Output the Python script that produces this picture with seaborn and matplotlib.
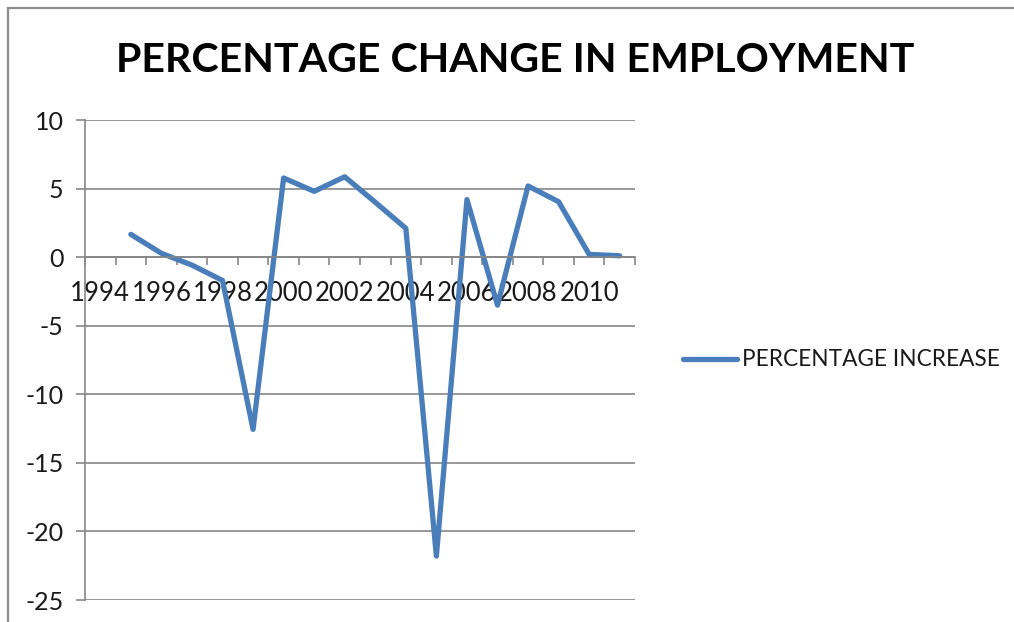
import matplotlib
matplotlib.use("Agg")
import matplotlib.pyplot as plt
import seaborn as sns
import pandas as pd
import numpy as np
from matplotlib.patches import Rectangle
from matplotlib.ticker import FixedLocator, NullFormatter

years = [1995, 1996, 1997, 1998, 1999, 2000, 2001, 2002, 2003, 2004,
         2005, 2006, 2007, 2008, 2009, 2010, 2011]
pct_increase = [1.66, 0.28, -0.58, -1.7, -12.56, 5.77, 4.8, 5.86, 4.0, 2.1,
                -21.8, 4.2, -3.5, 5.19, 4.04, 0.2, 0.1]
categories = list(range(1994, 2012))
xtick_labels = [str(y) for y in range(1994, 2011, 2)]
yticks = [10, 5, 0, -5, -10, -15, -20, -25]
series_name = "PERCENTAGE INCREASE"
title = "PERCENTAGE CHANGE IN EMPLOYMENT"

sns.set_theme(style="white")
plt.rcParams['font.family'] = ['Lato', 'DejaVu Sans']

df = pd.DataFrame({"Year": years, "Value": pct_increase, "Series": series_name})

W, H = 1014, 622
fig = plt.figure(figsize=(W / 100, H / 100), dpi=100)
fig.patch.set_facecolor("white")

ax = fig.add_axes([85 / W, 1 - 600 / H, (635 - 85) / W, (600 - 120) / H])

sns.lineplot(data=df, x="Year", y="Value", hue="Series", palette=["#4A7EBB"],
             linewidth=3.8, ax=ax, legend=True)
for ln in ax.lines:
    ln.set_solid_capstyle("round")
    ln.set_solid_joinstyle("round")

ax.set_xlim(categories[0] - 0.5, categories[-1] + 0.5)
ax.set_ylim(-25, 10)
ax.set_xlabel("")
ax.set_ylabel("")

gray = "#868686"
ax.spines["top"].set_visible(False)
ax.spines["right"].set_visible(False)
ax.spines["left"].set_color(gray)
ax.spines["left"].set_linewidth(1.2)
ax.spines["bottom"].set_position(("data", 0))
ax.spines["bottom"].set_color(gray)
ax.spines["bottom"].set_linewidth(1.2)

ax.set_yticks(yticks)
ax.set_yticklabels([str(v) for v in yticks])
ax.yaxis.grid(True, color=gray, linewidth=1.2)
ax.xaxis.grid(False)
ax.tick_params(axis="y", which="major", direction="out", length=6.5, width=1.2,
               color=gray, pad=9, labelsize=18, labelcolor="#1a1a1a", left=True)

label_years = [int(s) for s in xtick_labels]
ax.set_xticks(label_years)
ax.set_xticklabels(xtick_labels)
ax.xaxis.set_minor_locator(FixedLocator([c - 0.5 for c in categories] + [categories[-1] + 0.5]))
ax.xaxis.set_minor_formatter(NullFormatter())
ax.tick_params(axis="x", which="major", length=0, pad=17, labelsize=18.5,
               labelcolor="#1a1a1a", bottom=True)
ax.tick_params(axis="x", which="minor", direction="out", length=6, width=1.2,
               color=gray, bottom=True)

leg = ax.legend(loc="center left", bbox_to_anchor=(683 / W, 1 - 360 / H),
                bbox_transform=fig.transFigure, frameon=False, borderpad=0,
                borderaxespad=0, handlelength=2.4, handletextpad=0.2,
                fontsize=16.3)
for t in leg.get_texts():
    t.set_color("#1a1a1a")
for h in leg.get_lines():
    h.set_linewidth(3.8)
    h.set_solid_capstyle("round")

fig.text(515 / W, 1 - 61 / H, title, ha="center", va="center",
         fontsize=29.6, fontweight="bold", color="black")

fig.patches.append(Rectangle((8 / W, -0.2), 2, 1 - 8 / H + 0.2,
                             transform=fig.transFigure, fill=False,
                             edgecolor="#8c8c8c", linewidth=1.6))

fig.savefig("out.png", dpi=100)
